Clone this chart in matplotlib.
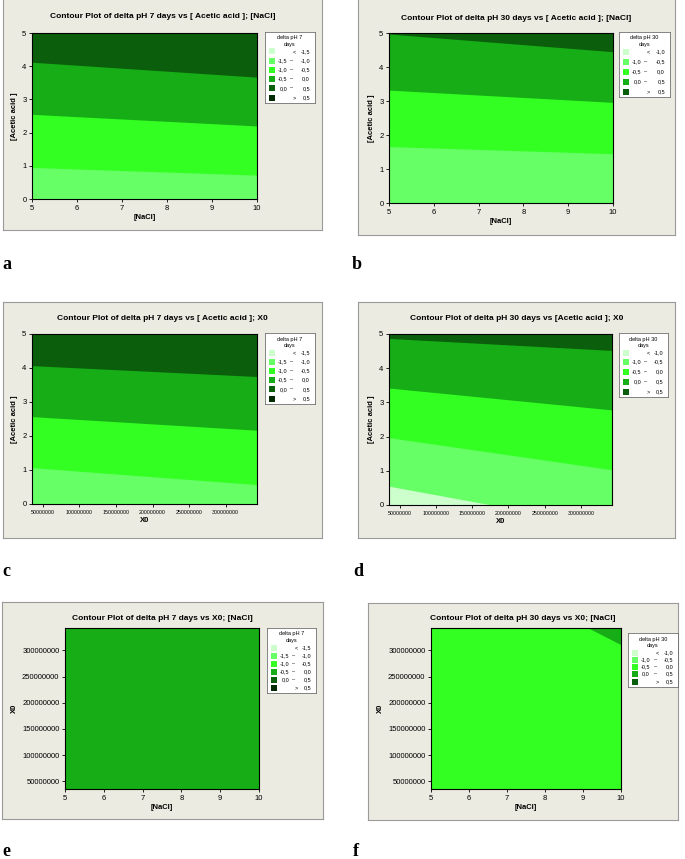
import numpy as np
import matplotlib
matplotlib.use('Agg')
import matplotlib.pyplot as plt
from matplotlib.patches import Rectangle
from matplotlib.ticker import FuncFormatter

W, H = 685, 859

# Minitab colour scale, light to dark
greens = ['#ccffcc', '#66ff66', '#33ff22', '#16ad16', '#0b5e0b', '#032b03']

# legend break points
breaks_7 = [-1.5, -1.0, -0.5, 0.0, 0.5]
breaks_30 = [-1.0, -0.5, 0.0, 0.5]

nacl_range = [5, 10]
acid_range = [0, 5]
x0_range = [35000000, 343000000]

nacl_ticks = [5, 6, 7, 8, 9, 10]
acid_ticks = [0, 1, 2, 3, 4, 5]
x0_ticks = [50000000, 100000000, 150000000, 200000000, 250000000, 300000000]

# contour boundaries: (x points, y points), bottom to top
a_bounds = [([5, 10], [0.95, 0.72]),
            ([5, 10], [2.55, 2.20]),
            ([5, 10], [4.12, 3.67])]
b_bounds = [([5, 10], [1.66, 1.45]),
            ([5, 10], [3.32, 2.96]),
            ([5, 10], [4.97, 4.45])]
c_bounds = [([35000000, 343000000], [1.07, 0.57]),
            ([35000000, 343000000], [2.57, 2.17]),
            ([35000000, 343000000], [4.07, 3.75])]
d_bounds = [([35000000, 177000000, 343000000], [0.55, 0.0, 0.0]),
            ([35000000, 343000000], [1.97, 1.03]),
            ([35000000, 343000000], [3.42, 2.78]),
            ([35000000, 343000000], [4.87, 4.52])]
e_bounds = []
f_bounds = [([9.14, 10], [343000000, 311000000])]

# colour index of the lowest band in each panel
a_base, b_base, c_base, d_base, e_base, f_base = 1, 1, 1, 0, 3, 2

titles = ['Contour Plot of delta pH 7 days vs [ Acetic acid ]; [NaCl]',
          'Contour Plot of delta pH 30 days vs [ Acetic acid ]; [NaCl]',
          'Contour Plot of delta pH 7 days vs [ Acetic acid ]; X0',
          'Contour Plot of delta pH 30 days vs [Acetic acid ]; X0',
          'Contour Plot of delta pH 7 days vs X0; [NaCl]',
          'Contour Plot of delta pH 30 days vs X0; [NaCl]']
letters = ['a', 'b', 'c', 'd', 'e', 'f']

sans = 'Liberation Sans'


def px(x0, y0, x1, y1):
    return [x0 / W, 1 - y1 / H, (x1 - x0) / W, (y1 - y0) / H]


def fmt(v):
    return f'{v:.1f}'.replace('.', ',')


def draw_legend(fig, box, name, breaks):
    lx = fig.add_axes(px(*box))
    w, h = box[2] - box[0], box[3] - box[1]
    lx.set_xlim(0, w)
    lx.set_ylim(h, 0)
    lx.set_xticks([])
    lx.set_yticks([])
    for s in lx.spines.values():
        s.set_color('#707070')
        s.set_linewidth(0.6)
    lx.text(w / 2, 3.5, name + '\ndays', ha='center', va='top', fontsize=4,
            linespacing=1.4, family=sans)
    rows = [('<', breaks[0])] + [(breaks[i], breaks[i + 1]) for i in range(len(breaks) - 1)] \
        + [('>', breaks[-1])]
    first = 19.5
    step = (h - 5.5 - first) / (len(rows) - 1)
    for i, (lo, hi) in enumerate(rows):
        y = first + i * step
        lx.add_patch(Rectangle((4, y - 3), 6, 6, color=greens[i], lw=0))
        if isinstance(lo, str):
            lx.text(29, y, lo, ha='center', va='center', fontsize=4, family=sans)
        else:
            lx.text(22, y, fmt(lo), ha='right', va='center', fontsize=4, family=sans)
            lx.text(27, y, '\u2013', ha='center', va='center', fontsize=4, family=sans)
        lx.text(w - 5, y, fmt(hi), ha='right', va='center', fontsize=4, family=sans)


panels = [
    dict(frame=(3, -2, 322, 230), plot=(32, 33, 257, 199), legend=(265, 32, 315, 103),
         title_y=17, letter=(2, 265), bounds=a_bounds, base=a_base, breaks=breaks_7,
         name='delta pH 7', xr=nacl_range, yr=acid_range, xt=nacl_ticks, yt=acid_ticks,
         xl='[NaCl]', yl='[Acetic acid ]'),
    dict(frame=(358, -2, 675, 235), plot=(389, 33, 613, 203), legend=(619, 32, 670, 97),
         title_y=18, letter=(352, 265), bounds=b_bounds, base=b_base, breaks=breaks_30,
         name='delta pH 30', xr=nacl_range, yr=acid_range, xt=nacl_ticks, yt=acid_ticks,
         xl='[NaCl]', yl='[Acetic acid ]'),
    dict(frame=(3, 302, 322, 538), plot=(32, 334, 257, 504), legend=(265, 333, 315, 404),
         title_y=318, letter=(2, 572), bounds=c_bounds, base=c_base, breaks=breaks_7,
         name='delta pH 7', xr=x0_range, yr=acid_range, xt=x0_ticks, yt=acid_ticks,
         xl='X0', yl='[Acetic acid ]'),
    dict(frame=(358, 302, 675, 538), plot=(389, 334, 612, 505), legend=(619, 333, 668, 397),
         title_y=319, letter=(353, 572), bounds=d_bounds, base=d_base, breaks=breaks_30,
         name='delta pH 30', xr=x0_range, yr=acid_range, xt=x0_ticks, yt=acid_ticks,
         xl='X0', yl='[Acetic acid ]'),
    dict(frame=(2, 602, 323, 819), plot=(65, 628, 259, 789), legend=(267, 628, 316, 693),
         title_y=618, letter=(2, 851), bounds=e_bounds, base=e_base, breaks=breaks_7,
         name='delta pH 7', xr=nacl_range, yr=x0_range, xt=nacl_ticks, yt=x0_ticks,
         xl='[NaCl]', yl='X0'),
    dict(frame=(368, 603, 678, 820), plot=(431, 628, 621, 789), legend=(628, 633, 678, 687),
         title_y=618, letter=(353, 851), bounds=f_bounds, base=f_base, breaks=breaks_30,
         name='delta pH 30', xr=nacl_range, yr=x0_range, xt=nacl_ticks, yt=x0_ticks,
         xl='[NaCl]', yl='X0'),
]

fig = plt.figure(figsize=(W / 100, H / 100), dpi=100)
fig.patch.set_facecolor('white')

for p, title, letter in zip(panels, titles, letters):
    # grey Minitab graph frame
    fx = fig.add_axes(px(*p['frame']))
    fx.set_facecolor('#ebebe1')
    fx.set_xticks([])
    fx.set_yticks([])
    for s in fx.spines.values():
        s.set_color('#9a9a9a')
        s.set_linewidth(0.8)
    fx.set_zorder(0)

    ax = fig.add_axes(px(*p['plot']))
    ax.set_zorder(1)
    xr, yr = p['xr'], p['yr']
    ax.fill_between(xr, yr[0], yr[1], color=greens[p['base']], lw=0)
    for k, (bx, by) in enumerate(p['bounds']):
        ax.fill_between(bx, by, yr[1], color=greens[p['base'] + k + 1], lw=0)
    ax.set_xlim(xr)
    ax.set_ylim(yr)
    ax.set_xticks(p['xt'])
    ax.set_yticks(p['yt'])
    ax.xaxis.set_major_formatter(FuncFormatter(lambda v, pos: f'{int(round(v))}'))
    ax.yaxis.set_major_formatter(FuncFormatter(lambda v, pos: f'{int(round(v))}'))
    ax.tick_params(length=2.5, width=0.6, labelsize=5.5, pad=1.5)
    if p['xr'] is x0_range:
        ax.tick_params(axis='x', labelsize=3.8)
    for lab in ax.get_xticklabels() + ax.get_yticklabels():
        lab.set_family(sans)
    for s in ax.spines.values():
        s.set_linewidth(0.8)
    ax.set_xlabel(p['xl'], fontsize=5.5, fontweight='bold', labelpad=2, family=sans)
    ax.set_ylabel(p['yl'], fontsize=5.5, fontweight='bold', labelpad=3, family=sans)

    fr = p['frame']
    fig.text((fr[0] + fr[2]) / 2 / W, 1 - p['title_y'] / H, title, ha='center', va='center',
             fontsize=6, fontweight='bold', family=sans)

    draw_legend(fig, p['legend'], p['name'], p['breaks'])

    lx, ly = p['letter']
    fig.text(lx / W, 1 - ly / H, letter, ha='left', va='center', fontsize=13,
             fontweight='bold', family='Liberation Serif')

fig.savefig('out.png', dpi=100)
